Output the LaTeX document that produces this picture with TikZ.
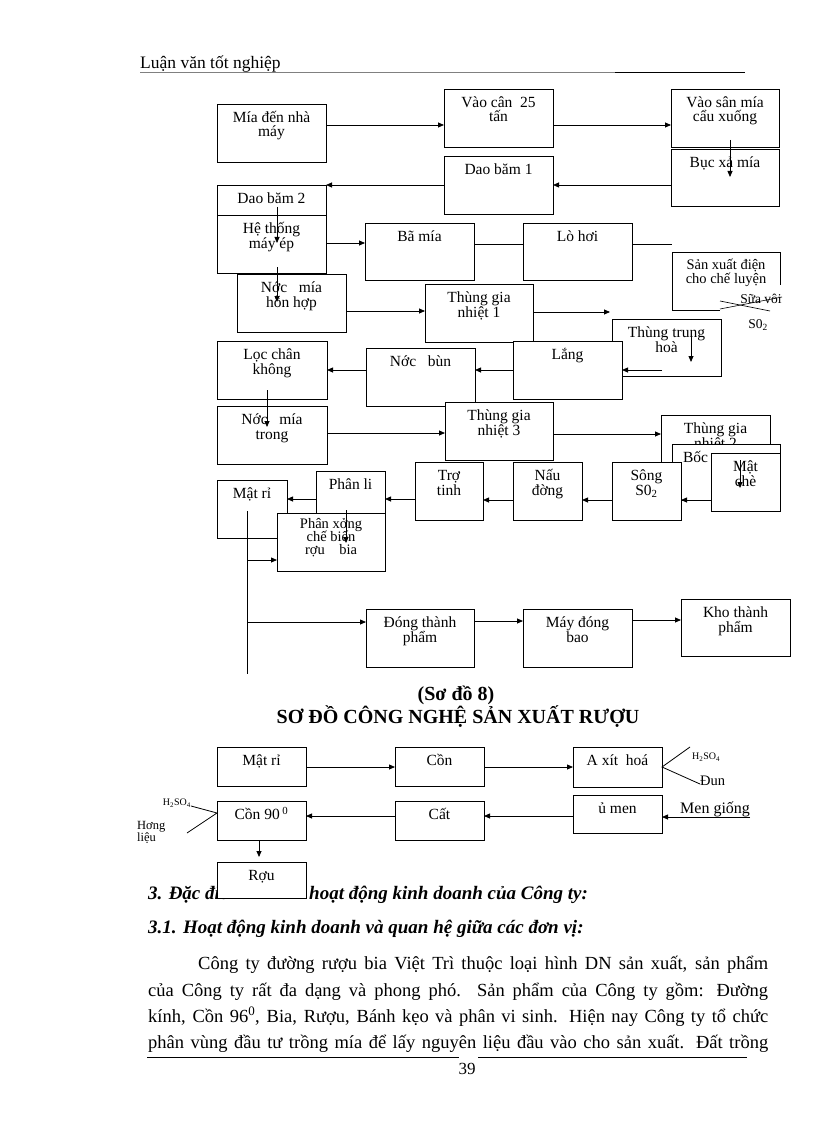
\documentclass[tikz,border=0pt]{standalone}
\usepackage{fontspec}
\setmainfont{Liberation Serif}
\usetikzlibrary{arrows.meta}
\newlength\firstoff
\setlength\firstoff{18.5pt}
% #1 style, #2 name, #3 x, #4 y (top), #5 width, #6 height, #7 text
\newcommand\tbox[7][box]{\node[#1,anchor=north west] (#2) at (#3,#4) {\parbox[t][#6pt][t]{#5pt}{\lineskiplimit=-50pt\centering\rule{0pt}{\firstoff}#7}};}
\begin{document}
\begin{tikzpicture}[x=1pt,y=-1pt,
  box/.style={draw,line width=0.8pt,fill=white,inner sep=0pt,outer sep=0pt,font=\fontsize{15.5}{14.5}\selectfont},
  nobox/.style={box,draw=none},
  arr/.style={line width=0.8pt,-{Triangle[length=6pt,width=5pt]}},
  ln/.style={line width=0.8pt},
  txt/.style={inner sep=0pt,font=\fontsize{14}{14}\selectfont}]
\useasboundingbox[fill=white] (0,0) rectangle (816,1123);

% header
\node[txt,anchor=base west,font=\fontsize{17.5}{17.5}\selectfont] (hdr) at (140,69) {Luận văn tốt nghiệp};
\draw[line width=0.6pt,gray] (140,72.5) -- (615,72.5);
\draw[line width=0.6pt] (615,72.5) -- (745,72.5);

% ---------- top diagram ----------
\tbox{mia}{217}{104}{109}{58}{Mía đến nhà\\máy}
\tbox{vaocan}{444}{89}{109}{58}{Vào cân~~25\\tấn}
\tbox{vaosan}{671}{89}{108}{58}{Vào sân mía\\cẩu xuống}
\tbox{bucxa}{671}{149}{108}{57}{Bục xả mía}
\tbox{daobam1}{444}{156}{109}{58}{Dao băm 1}
\tbox{daobam2}{217}{185}{109}{30}{Dao băm 2}
\tbox{hethong}{217}{215}{109}{58}{Hệ thống\\máy ép}
\tbox{bamia}{365}{223}{109}{57}{Bã mía}
\tbox{lohoi}{523}{223}{109}{57}{Lò hơi}
{\setlength\firstoff{17pt}
\tbox[nobox,font=\fontsize{14.5}{14}\selectfont]{sx}{672}{252}{108}{58}{Sản xuất điện\\cho chế luyện}}
\draw[ln] (sx.south west) -- (sx.north west) -- (sx.north east) -- ([yshift=-33pt]sx.north east);
\draw[ln] (sx.south west) -- ([xshift=48pt]sx.south west);
\node[txt,font=\fontsize{13.5}{13}\selectfont] (suavoi) at (761,299) {Sữa vôi};
\draw[line width=0.6pt] (720,301) -- (770,311);
\draw[line width=0.6pt] (720,309) -- (782,297);
\node[txt,font=\fontsize{13.5}{13}\selectfont] (so2a) at (758,325) {S0\textsubscript{2}};

\tbox{nmhh}{237}{274}{109}{58}{Nớc~~~mía\\hỗn hợp}
\tbox{tgn1}{425}{284}{108}{58}{Thùng gia\\nhiệt 1}
\tbox{tth}{612}{319}{109}{57}{Thùng trung\\hoà}
\tbox{lang}{513}{341}{109}{58}{Lắng}
\tbox{nocbun}{366}{348}{109}{58}{Nớc~~~bùn}
\tbox{loc}{217}{341}{110}{58}{Lọc chân\\không}
\tbox{nmtrong}{217}{406}{110}{58}{Nớc~~~mía\\trong}
\tbox{tgn3}{445}{402}{108}{58}{Thùng gia\\nhiệt 3}
\tbox{tgn2}{661}{415}{109}{58}{Thùng gia\\nhiệt 2}
\tbox{bochoi}{672}{444}{108}{56}{\makebox[86pt][l]{Bốc}}
\tbox{matche}{711}{453}{69}{58}{Mật\\chè}
\tbox{song}{612}{462}{69}{58}{Sông\\S0\textsubscript{2}}
\tbox{naudong}{513}{462}{69}{58}{Nấu\\đờng}
\tbox{trotinh}{415}{462}{68}{58}{Trợ\\tinh}
\tbox{phanli}{316}{471}{69}{42}{Phân li}
\tbox{matri}{217}{480}{70}{58}{Mật rỉ}
{\setlength\firstoff{15pt}
\tbox[box,font=\fontsize{14.5}{13}\selectfont]{phanx}{277}{513}{108}{58}{Phân xởng\\chế biến\\rợu~~~~bia}}
\tbox{dongtp}{366}{609}{108}{58}{Đóng thành\\phẩm}
\tbox{maydong}{523}{609}{109}{58}{Máy đóng\\bao}
\tbox{kho}{681}{599}{109}{57}{Kho thành\\phẩm}

% free ends
\coordinate (c1) at (730,140);
\coordinate (c2) at (277,207);
\coordinate (c3) at (672,244);
\coordinate (c4) at (277,267);
\coordinate (c5) at (610,312);
\coordinate (c6) at (691,335);
\coordinate (c7) at (662,370);
\coordinate (c8) at (267,390);
\coordinate (c9) at (740,460);
\coordinate (c10) at (346,510);
\coordinate (c11) at (247,511);
\coordinate (c12) at (247,674);

\draw[arr] (mia.east |- 0,125) -- (vaocan.west |- 0,125);
\draw[arr] (vaocan.east |- 0,125) -- (vaosan.west |- 0,125);
\draw[arr] (c1) -- (c1 |- 0,177);
\draw[arr] (bucxa.west |- 0,185) -- (daobam1.east |- 0,185);
\draw[arr] (daobam1.west |- 0,185) -- (daobam2.north east);
\draw[arr] (c2) -- (c2 |- 0,243);
\draw[arr] (hethong.east |- 0,243) -- (bamia.west |- 0,243);
\draw[ln] (bamia.east |- 0,244) -- (lohoi.west |- 0,244);
\draw[ln] (lohoi.east |- 0,244) -- (c3);
\draw[arr] (c4) -- (c4 |- 0,302);
\draw[arr] (nmhh.east |- 0,311) -- (tgn1.west |- 0,311);
\draw[arr] (tgn1.east |- 0,312) -- (c5);
\draw[arr] (c6) -- (c6 |- 0,362);
\draw[arr] (c7) -- (lang.east |- c7);
\draw[arr] (lang.west |- 0,370) -- (nocbun.east |- 0,370);
\draw[arr] (nocbun.west |- 0,370) -- (loc.east |- 0,370);
\draw[arr] (c8) -- (c8 |- 0,427);
\draw[arr] (nmtrong.east |- 0,433) -- (tgn3.west |- 0,433);
\draw[arr] (tgn3.east |- 0,434) -- (tgn2.west |- 0,434);
\draw[arr] (c9) -- (c9 |- 0,488);
\draw[arr] (matche.west |- 0,500) -- (song.east |- 0,500);
\draw[arr] (song.west |- 0,500) -- (naudong.east |- 0,500);
\draw[arr] (naudong.west |- 0,500) -- (trotinh.east |- 0,500);
\draw[arr] (trotinh.west |- 0,499) -- (phanli.east |- 0,499);
\draw[arr] (phanli.west |- 0,499) -- (matri.east |- 0,499);
\draw[arr] (c10) -- (c10 |- 0,543);
\draw[ln] (c11) -- (c12);
\draw[arr] (c11 |- 0,560) -- (phanx.west |- 0,560);
\draw[arr] (c11 |- 0,622) -- (dongtp.west |- 0,622);
\draw[arr] (dongtp.east |- 0,621) -- (maydong.west |- 0,621);
\draw[arr] (maydong.east |- 0,620) -- (kho.west |- 0,620);

% ---------- titles ----------
\node[txt,font=\fontsize{20}{20}\selectfont\bfseries] (t1) at (456,695) {(Sơ đồ 8)};
\node[txt,font=\fontsize{20}{20}\selectfont\bfseries] (t2) at (458,717) {SƠ ĐỒ CÔNG NGHỆ SẢN XUẤT RƯỢU};

% ---------- body text ----------
\node[txt,anchor=base west,font=\fontsize{19}{19}\selectfont\bfseries\itshape] (h1a) at (148,899) {3. Đặc điểm};
\node[txt,anchor=base west,font=\fontsize{19}{19}\selectfont\bfseries\itshape] (h1b) at (309,899) {hoạt động kinh doanh của Công ty:};
\node[txt,anchor=base west,font=\fontsize{19}{19}\selectfont\bfseries\itshape] (h2) at (148,933) {3.1. Hoạt động kinh doanh và quan hệ giữa các đơn vị:};
\node[txt,anchor=base west,font=\fontsize{18.5}{18}\selectfont] (p1) at (198,969) {\makebox[570pt][s]{Công ty đường rượu bia Việt Trì thuộc loại hình DN sản xuất, sản phẩm}};
\node[txt,anchor=base west,font=\fontsize{18.5}{18}\selectfont] (p2) at (148,996) {\makebox[620pt][s]{của Công ty rất đa dạng và phong phó. Sản phẩm của Công ty gồm: Đường}};
\node[txt,anchor=base west,font=\fontsize{18.5}{18}\selectfont] (p3) at (148,1022) {\makebox[620pt][s]{kính, Cồn 96\textsuperscript{0}, Bia, Rượu, Bánh kẹo và phân vi sinh. Hiện nay Công ty tổ chức}};
\node[txt,anchor=base west,font=\fontsize{18.5}{18}\selectfont] (p4) at (148,1048) {\makebox[620pt][s]{phân vùng đầu tư trồng mía để lấy nguyên liệu đầu vào cho sản xuất. Đất trồng}};
\draw[line width=0.6pt] (147,1057) -- (459,1057);
\draw[line width=0.6pt] (478,1057) -- (747,1057);
\node[txt,font=\fontsize{17}{17}\selectfont] (pg) at (467,1069) {39};

% ---------- bottom diagram ----------
\tbox{mr2}{217}{747}{89}{39}{Mật rỉ}
\tbox{con}{395}{747}{89}{39}{Cồn}
\tbox{axit}{573}{747}{89}{40}{A xít~~hoá}
\tbox{con90}{217}{801}{89}{39}{Cồn 90\,\textsuperscript{0}}
\tbox{cat}{395}{801}{89}{39}{Cất}
\tbox{umen}{573}{795}{89}{38}{ủ men}
\tbox{ruou}{217}{862}{89}{36}{Rợu}

\coordinate (d1) at (690,747);
\coordinate (d2) at (700,784);
\coordinate (d3) at (750,817);
\coordinate (d4) at (191,806);
\coordinate (d5) at (187,833);
\coordinate (d6) at (259,857);
\draw[arr] (mr2.east |- 0,767) -- (con.west |- 0,767);
\draw[arr] (con.east |- 0,767) -- (axit.west |- 0,767);
\draw[ln] (d1) -- (axit.east) -- (d2);
\node[txt,anchor=west,font=\fontsize{10}{10}\selectfont] (h2so4a) at (692,757) {H\textsubscript{2}SO\textsubscript{4}};
\node[txt,anchor=west,font=\fontsize{14.5}{14}\selectfont] (dun) at (700,781) {Đun};
\draw[arr] (d3) -- (umen.east |- d3);
\node[txt,anchor=base west,font=\fontsize{16}{16}\selectfont] (mengiong) at (680,813) {Men giống};
\draw[arr] (umen.west |- 0,816) -- (cat.east |- 0,816);
\draw[arr] (cat.west |- 0,816) -- (con90.east |- 0,816);
\draw[ln] (d4) -- (con90.west |- 0,813) -- (d5);
\node[txt,anchor=east,font=\fontsize{10}{10}\selectfont] (h2so4b) at (191,803) {H\textsubscript{2}SO\textsubscript{4}};
\node[txt,anchor=north west,align=left,font=\fontsize{12.5}{11}\selectfont] (huong) at (137,821) {Hơng\\liệu};
\draw[arr] (con90.south -| d6) -- (d6);
\end{tikzpicture}
\end{document}
